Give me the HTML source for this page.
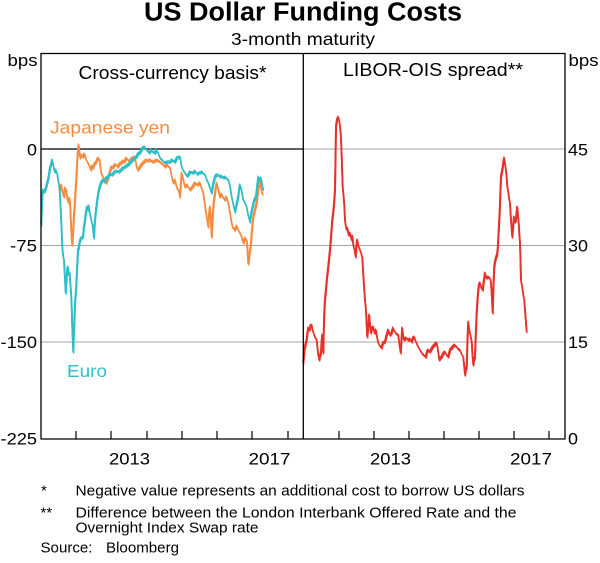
<!DOCTYPE html>
<html>
<head>
<meta charset="utf-8">
<style>
  html, body { margin:0; padding:0; background:#fff; }
  svg { display:block; }
  text { font-family: "Liberation Sans", Arial, sans-serif; fill:#000; }
</style>
</head>
<body>
<svg width="600" height="563" viewBox="0 0 600 563" xmlns="http://www.w3.org/2000/svg">
  <defs>
    <polyline id="yen" fill="none" stroke-linejoin="round" points="
60,190 61.3,185 62.5,192 64,197 65,188 66.3,190 67.5,200 68.7,203 69.5,198 70.3,207 70.8,220 71.3,230 71.8,240 72.3,245 72.8,238 73.3,230 74,215 74.7,207 75.5,192 76.3,180 76.8,170 77.3,160 78,150 78.7,145 79.5,152 80.3,158 81.5,155 83,157 84.5,154 86.3,160 88,163 89.7,167 91,170 92,166 93,168 94.5,164 96.3,162 98,158 99.7,160 100.5,168 101.3,173 103,177 104.5,180 106.3,183 107.5,180 108.7,177 110,172 111.3,167 113,168 114.5,165 116.3,165 118,167 119.5,164 121.3,163 123,161 124.5,162 126.3,158 128,160 129.7,162 131,159 133,158 134.7,157 136,163 137,168 138,170 139.5,168 141.3,165 143,163 146.3,160 148,161 150,160 153,162 155,161 157,160 160,162 162.5,164 165,167 167,165 170,168 171.5,175 173.3,183 175,180 176.7,187 178,190 179.2,192 180,197 180.8,185 181.7,173 183,178 184,183 185,187 187,185 190,190 192.5,187 195,183 197.5,185 200,183 201.5,188 203.3,193 205,205 206.7,217 207.5,222 208.3,227 209,215 210,207 211,222 211.7,237 212.5,222 213.3,207 215,193 216.7,183 218.3,190 220,197 221.5,194 223.3,198 225,200 226.5,197 228.3,203 230,213 231.7,223 233,228 235,230 236.5,226 238.3,230 240,233 241.7,237 242.5,240 243.3,243 245,238 246.7,240 247.5,250 248.3,264 249,260 249.7,253 250.7,247 252,230 253.3,217 255,210 256.7,203 258,192 259,185 260,180 261,188 262,192 262.7,195"/>
    <polyline id="euro" fill="none" stroke-linejoin="round" points="
41.3,225 42,200 43,190 44.5,192 46.3,187 47.5,182 48.5,178 49.7,170 51,165 52.3,160 53.5,166 54.7,172 56,170 57.3,174 58.5,182 59.7,190 60.5,205 61.3,223 62.3,247 63,255 64,260 64.8,275 65.7,293 66.5,280 67.2,270 68,267 68.8,275 69.7,273 70.5,285 71.3,297 71.8,310 72.3,327 72.8,340 73.3,352 73.8,335 74.7,313 75.3,300 76.3,287 77,270 78,250 78.8,248 79.5,243 80.3,240 81.5,238 83,237 83.8,228 84.7,223 85.8,214 87,207 88,210 88.8,206 89.7,212 90.5,216 91.3,220 92.2,224 93,227 93.5,234 94,238 94.6,226 95.3,217 96.3,208 97.3,200 98.5,192 99.7,187 101,183 103,180 104.5,182 106,178 108,177 110,174 112,175 114.7,172 117,171 119,172 121.3,170 123,168 125,167 128,165 130,163 132,161 134.7,158 136.5,157 138,154 139.7,153 141,151 142.5,148 144.7,147 146,149 147.5,151 149.7,153 151,150 153,152 155,153 156.7,150 158,153 160,158 162,160 165,163 167,162 170,162 172,160 175,162 177,158 180,157 181,163 181.7,167 183,170 185,173 187,176 188.3,175 190,172 193.3,173 195,171 197,174 200,173 202,172 205,175 206.5,179 208.3,183 210,188 211.7,193 213,185 215,177 216.5,175 218.3,175 220,177 221.5,176 223.3,178 225,177 228.3,180 230,186 231.7,197 233,203 235,212 236.5,205 238.3,197 239,190 240,185 241.5,190 243.3,200 245,203 246.7,207 248,214 250,222 251.3,213 252.7,207 254,201 256,197 257,188 258.3,177 259.5,180 261,178 262,184 263.3,190"/>
    <polyline id="libor" fill="none" stroke-linejoin="round" points="
303.3,363 304.5,350 305.5,345 306.7,340 307.5,333 308.3,328 309.5,330 310.5,326 311.7,325 312.5,330 313.3,332 314.5,336 315.5,338 316.7,340 317.5,348 318.3,355 319.3,360 320,356 321,353 321.6,342 322.3,335 322.8,345 323.3,353 323.8,330 324.3,313 325,300 326,290 327,278 328.3,267 329,260 330,250 331,238 332.3,220 333.3,212 334,205 335,190 335.5,160 336,127 337,120 338.3,117 339.5,122 340.7,133 341.5,150 342.7,187 343.5,195 344.3,205 345,220 345.8,226 346.7,230 347.5,228 348.5,235 350,233 351,238 351.7,240 352.5,236 353.3,245 354.5,250 355.7,257 356.5,245 357.3,240 358.5,246 360,250 361,253 362.3,257 363.3,275 364.3,290 365,300 366,310 366.7,325 367.3,337 368,330 369.3,315 370,325 371,333 372,328 373.3,327 374.5,333 376,330 377,337 378.3,343 380,346 381.7,348 383,343 385,342 386.5,336 388.3,330 390,335 391.7,333 393,328 395,332 396.5,334 398.3,335 399.5,345 400.7,353 401.5,340 402.3,328 403,335 404,340 406,338 408.3,340 410,339 411.7,342 413,338 414.3,337 416,342 418.3,347 420,350 421.7,353 423.5,355 426,357 427,352 428.3,350 430,352 432.7,347 434.5,345 436.7,343 438,350 439.3,360 440.5,358 441.7,357 443,354 445,352 446.5,355 448.3,357 450,350 452.7,347 454.5,345 456.7,347 458,349 460,350 461.5,354 463.3,357 464.2,366 465,375 465.8,370 466.7,367 467.5,340 468.3,322 469,328 470,333 471,338 471.7,342 472.5,355 473.3,365 474,360 475,357 475.8,335 476.7,313 477.5,300 478.3,290 479,285 480,283 481.3,288 482.7,290 484,280 485,273 486.5,278 488.3,277 489.5,278 490.7,280 491.5,290 492.7,313 493.5,285 494.3,267 495,262 496,258 497,255 497.7,250 498.5,235 499.3,220 500,205 500.5,190 501,177 502.3,170 503.3,163 504.3,158 505.2,165 506,170 506.7,178 507.3,187 508.3,192 509.3,200 510,203 510.5,212 511,220 511.7,230 512.3,237 513,228 514,217 515,222 516,220 516.7,212 517.3,207 518,215 518.7,223 519.3,233 520,243 520.5,260 521,280 521.8,285 522.7,290 523.5,296 524.3,300 525,310 525.8,320 526.7,332"/>
  </defs>

  <rect x="0" y="0" width="600" height="563" fill="#fff"/>

  <!-- Titles -->
  <text x="144" y="20.5" font-size="25.5" font-weight="bold" textLength="318" lengthAdjust="spacingAndGlyphs">US Dollar Funding Costs</text>
  <text x="231" y="45" font-size="17.5" textLength="144" lengthAdjust="spacingAndGlyphs">3-month maturity</text>

  <!-- Gridlines -->
  <g stroke="#a6a6a6" stroke-width="1">
    <line x1="41" y1="245.5" x2="565" y2="245.5"/>
    <line x1="41" y1="342" x2="565" y2="342"/>
    <line x1="303" y1="149" x2="565" y2="149"/>
  </g>
  <line x1="41" y1="149" x2="303" y2="149" stroke="#000" stroke-width="1.2"/>

  <!-- Panel labels -->
  <text x="78.5" y="79" font-size="18.5" textLength="188" lengthAdjust="spacingAndGlyphs">Cross-currency basis*</text>
  <text x="343" y="76" font-size="18.5" textLength="180" lengthAdjust="spacingAndGlyphs">LIBOR-OIS spread**</text>

  <!-- Series labels -->
  <text x="50" y="133.3" font-size="17.3" style="fill:#f68b3f" textLength="120" lengthAdjust="spacingAndGlyphs">Japanese yen</text>
  <text x="67" y="377" font-size="17.3" style="fill:#2ebec8" textLength="40" lengthAdjust="spacingAndGlyphs">Euro</text>

  <!-- Series: Japanese yen (orange) -->
  <g stroke="#f68b3f">
    <use href="#yen" stroke-width="1.7"/>
    <use href="#yen" stroke-width="1" transform="translate(0.5,1.3)"/>
    <use href="#yen" stroke-width="1" transform="translate(-0.5,-1.1)"/>
  </g>

  <!-- Series: Euro (teal) -->
  <g stroke="#2ebec8">
    <use href="#euro" stroke-width="1.7"/>
    <use href="#euro" stroke-width="1" transform="translate(0.5,1.3)"/>
    <use href="#euro" stroke-width="1" transform="translate(-0.5,-1.1)"/>
  </g>

  <!-- Series: LIBOR-OIS (red) -->
  <g stroke="#e8312a">
    <use href="#libor" stroke-width="1.7"/>
    <use href="#libor" stroke-width="1" transform="translate(0.5,1.3)"/>
    <use href="#libor" stroke-width="1" transform="translate(-0.5,-1.1)"/>
  </g>

  <!-- Frame -->
  <g stroke="#000" stroke-width="1.3" fill="none">
    <line x1="41" y1="53.5" x2="565" y2="53.5"/>
    <line x1="41" y1="53" x2="41" y2="439.5"/>
    <line x1="565" y1="53" x2="565" y2="439.5"/>
    <line x1="303.3" y1="53" x2="303.3" y2="439.5"/>
    <line x1="41" y1="439" x2="565" y2="439"/>
  </g>

  <!-- X ticks -->
  <g stroke="#000" stroke-width="1.2">
    <line x1="76" y1="431" x2="76" y2="439"/>
    <line x1="111" y1="431" x2="111" y2="439"/>
    <line x1="147" y1="431" x2="147" y2="439"/>
    <line x1="182" y1="431" x2="182" y2="439"/>
    <line x1="217" y1="431" x2="217" y2="439"/>
    <line x1="252" y1="431" x2="252" y2="439"/>
    <line x1="288" y1="431" x2="288" y2="439"/>
    <line x1="339" y1="431" x2="339" y2="439"/>
    <line x1="374" y1="431" x2="374" y2="439"/>
    <line x1="409" y1="431" x2="409" y2="439"/>
    <line x1="444" y1="431" x2="444" y2="439"/>
    <line x1="479" y1="431" x2="479" y2="439"/>
    <line x1="514" y1="431" x2="514" y2="439"/>
    <line x1="549" y1="431" x2="549" y2="439"/>
  </g>

  <!-- Axis labels -->
  <text x="7.5" y="66" font-size="16.5" textLength="30" lengthAdjust="spacingAndGlyphs">bps</text>
  <text x="568.5" y="66" font-size="16.5" textLength="30" lengthAdjust="spacingAndGlyphs">bps</text>

  <text x="27" y="155.5" font-size="16.5" textLength="10" lengthAdjust="spacingAndGlyphs">0</text>
  <text x="10" y="251.5" font-size="16.5" textLength="27" lengthAdjust="spacingAndGlyphs">-75</text>
  <text x="0.5" y="348" font-size="16.5" textLength="36.5" lengthAdjust="spacingAndGlyphs">-150</text>
  <text x="0.5" y="444.5" font-size="16.5" textLength="36.5" lengthAdjust="spacingAndGlyphs">-225</text>

  <text x="568" y="155.5" font-size="16.5" textLength="20" lengthAdjust="spacingAndGlyphs">45</text>
  <text x="568" y="251.5" font-size="16.5" textLength="20" lengthAdjust="spacingAndGlyphs">30</text>
  <text x="568" y="348" font-size="16.5" textLength="20" lengthAdjust="spacingAndGlyphs">15</text>
  <text x="568" y="444.5" font-size="16.5" textLength="10" lengthAdjust="spacingAndGlyphs">0</text>

  <text x="109" y="464.5" font-size="16.5" textLength="41" lengthAdjust="spacingAndGlyphs">2013</text>
  <text x="248.5" y="464.5" font-size="16.5" textLength="42" lengthAdjust="spacingAndGlyphs">2017</text>
  <text x="370" y="464.5" font-size="16.5" textLength="41" lengthAdjust="spacingAndGlyphs">2013</text>
  <text x="510" y="464.5" font-size="16.5" textLength="42" lengthAdjust="spacingAndGlyphs">2017</text>

  <!-- Footnotes -->
  <text x="41" y="495.7" font-size="15">*</text>
  <text x="75.5" y="495.7" font-size="15" textLength="449" lengthAdjust="spacingAndGlyphs">Negative value represents an additional cost to borrow US dollars</text>
  <text x="40.5" y="517.3" font-size="15">**</text>
  <text x="75.5" y="517.3" font-size="15" textLength="441" lengthAdjust="spacingAndGlyphs">Difference between the London Interbank Offered Rate and the</text>
  <text x="75.5" y="532.3" font-size="15" textLength="183" lengthAdjust="spacingAndGlyphs">Overnight Index Swap rate</text>
  <text x="40.5" y="552.3" font-size="15" textLength="52" lengthAdjust="spacingAndGlyphs">Source:</text>
  <text x="106" y="552.3" font-size="15" textLength="73" lengthAdjust="spacingAndGlyphs">Bloomberg</text>
</svg>
</body>
</html>
